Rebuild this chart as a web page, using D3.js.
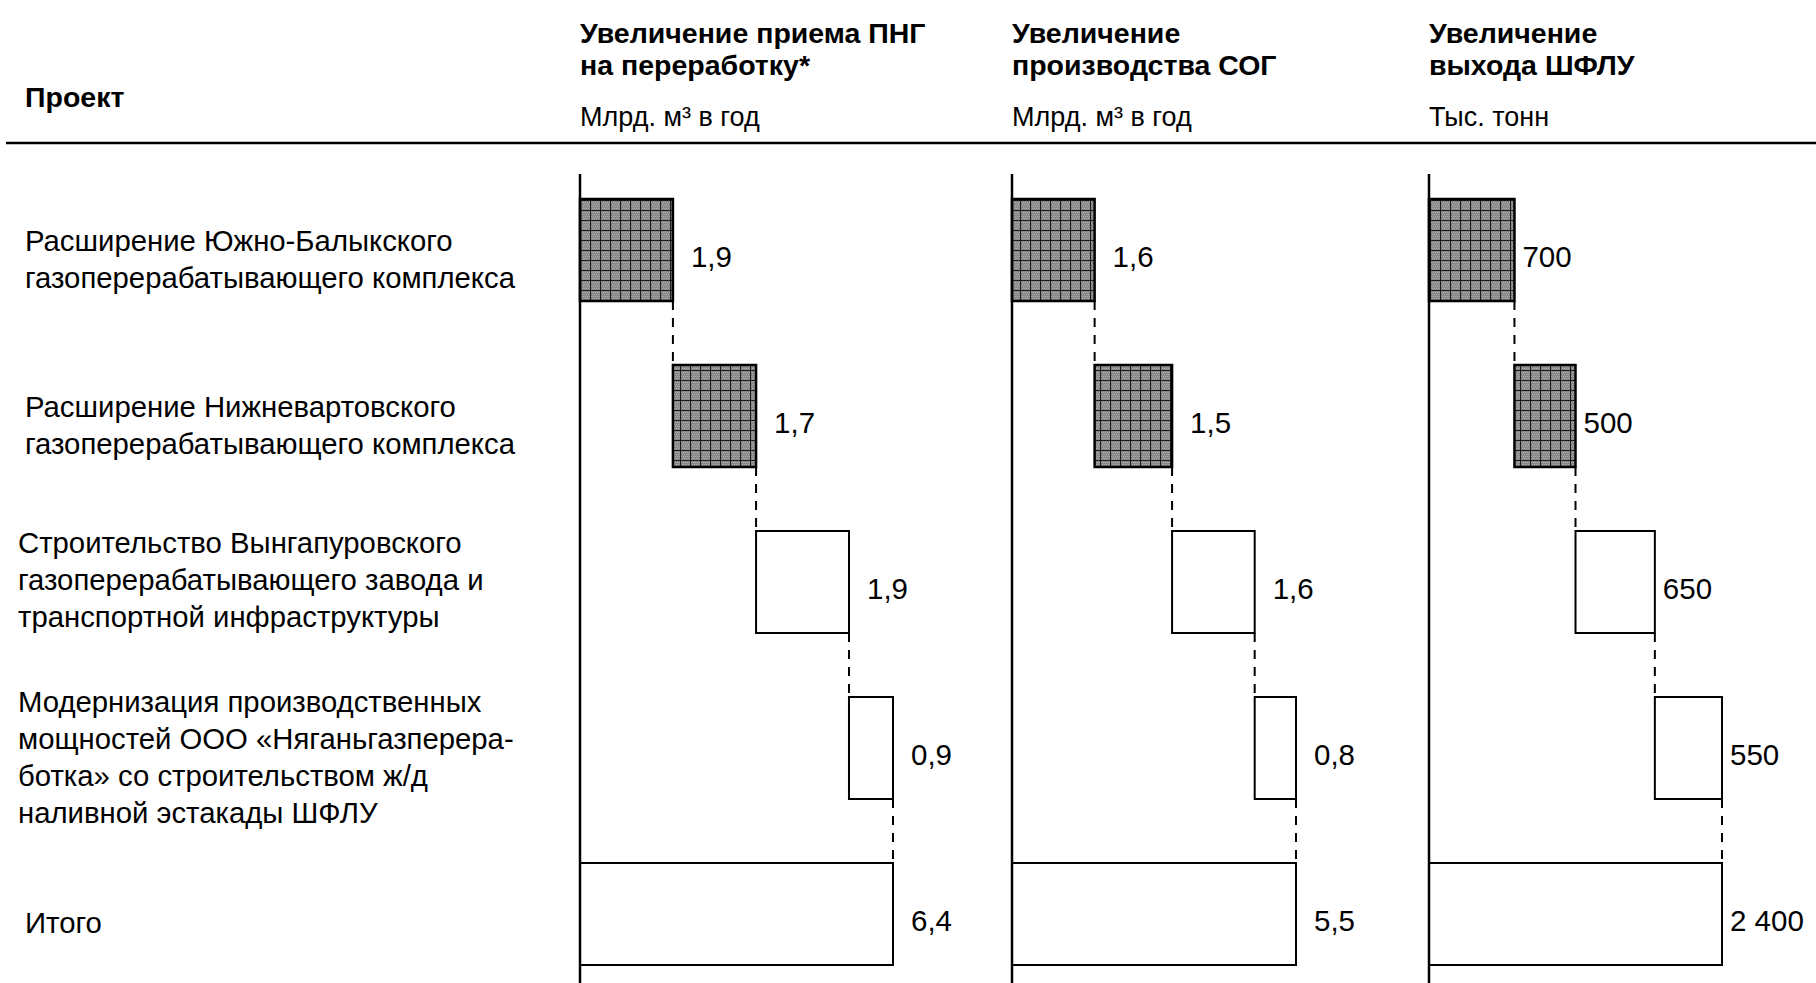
<!DOCTYPE html>
<html>
<head>
<meta charset="utf-8">
<script src="https://cdn.jsdelivr.net/npm/d3@7"></script>
<style>
  body { margin: 0; background: #fff; }
  text { font-family: "Liberation Sans", Arial, sans-serif; fill: #000; }
</style>
</head>
<body>
<svg id="chart" width="1816" height="983"></svg>
<script>
// row labels (projects), last one is the total
const projects = [
  ["Расширение Южно-Балыкского", "газоперерабатывающего комплекса"],
  ["Расширение Нижневартовского", "газоперерабатывающего комплекса"],
  ["Строительство Вынгапуровского", "газоперерабатывающего завода и", "транспортной инфраструктуры"],
  ["Модернизация производственных", "мощностей ООО «Няганьгазперера-", "ботка» со строительством ж/д", "наливной эстакады ШФЛУ"],
  ["Итого"]
];

// column headers and units
const headers = [
  ["Увеличение приема ПНГ", "на переработку*"],
  ["Увеличение", "производства СОГ"],
  ["Увеличение", "выхода ШФЛУ"]
];
const units = ["Млрд. м³ в год", "Млрд. м³ в год", "Тыс. тонн"];

// increments per project, in each column
const pngValues = [1.9, 1.7, 1.9, 0.9];
const sogValues = [1.6, 1.5, 1.6, 0.8];
const shfluValues = [700, 500, 650, 550];
const totals = [6.4, 5.5, 2400];

// first two projects are existing plants (hatched), the rest are new (white)
const hatched = [true, true, false, false];

const locale = d3.formatLocale({decimal: ",", thousands: "\u00a0", grouping: [3], currency: ["", ""]});
const formats = [locale.format(".1f"), locale.format(".1f"), locale.format(",.0f")];

const series = [pngValues, sogValues, shfluValues];

// layout
const headSize = 28.5;
const unitSize = 27;
const labelSize = 29.3;
const valueSize = 29.5;
const panelX = [580, 1012, 1429];
const panelW = [313, 284, 293];
const labelGap = [18, 18, 8];

const svg = d3.select('#chart');

// hatch pattern for existing plants
const defs = svg.append('defs');
const pat = defs.append('pattern')
  .attr('id', 'grid')
  .attr('patternUnits', 'userSpaceOnUse')
  .attr('width', 10).attr('height', 10);
pat.append('rect').attr('width', 10).attr('height', 10).attr('fill', '#8a8a8a');
for (let i = 0; i < 10; i += 2) {
  for (let j = 0; j < 10; j += 2) {
    pat.append('rect').attr('x', i + ((j / 2) % 2)).attr('y', j).attr('width', 1).attr('height', 1).attr('fill', '#aaaaaa');
  }
}
pat.append('path').attr('d', 'M0,0.5H10M0.5,0V10').attr('stroke', '#1a1a1a').attr('stroke-width', 1.2);

// row scale
const rows = d3.range(projects.length);
const yScale = d3.scaleBand().domain(rows).range([199, 965]).paddingInner(0.3855).paddingOuter(0);

// header
svg.append('text')
  .attr('x', 25).attr('y', 107)
  .attr('font-size', headSize).attr('font-weight', 'bold')
  .text('Проект');

svg.append('line')
  .attr('x1', 6).attr('x2', 1816)
  .attr('y1', 143).attr('y2', 143)
  .attr('stroke', '#000').attr('stroke-width', 2.5);

headers.forEach((h, k) => {
  const t = svg.append('text')
    .attr('font-size', headSize).attr('font-weight', 'bold');
  h.forEach((line, li) => {
    t.append('tspan').attr('x', panelX[k]).attr('y', 43 + li * 32).text(line);
  });
  svg.append('text')
    .attr('x', panelX[k]).attr('y', 126)
    .attr('font-size', unitSize)
    .text(units[k]);
});

// row labels
const lineH = 37;
projects.forEach((lines, i) => {
  // third label sits a little higher than its bar in the original
  const nudge = i === 2 ? -11 : 0;
  const cy = yScale(i) + yScale.bandwidth() / 2 + 9 + nudge;
  const lx = (i === 2 || i === 3) ? 18 : 25;
  const t = svg.append('text').attr('font-size', labelSize);
  lines.forEach((line, li) => {
    t.append('tspan')
      .attr('x', lx)
      .attr('y', cy + (li - (lines.length - 1) / 2) * lineH)
      .attr('dy', '0.35em')
      .text(line);
  });
});

// waterfall panels
series.forEach((vals, k) => {
  const x = d3.scaleLinear().domain([0, totals[k]]).range([panelX[k], panelX[k] + panelW[k]]);
  const g = svg.append('g');

  // cumulative steps
  let acc = 0;
  const steps = vals.map((v, i) => {
    const s = {i: i, start: acc, end: acc + v, value: v, hatched: hatched[i]};
    acc += v;
    return s;
  });
  steps.push({i: vals.length, start: 0, end: totals[k], value: totals[k], hatched: false});

  // dashed connectors
  for (let i = 0; i < steps.length - 1; i++) {
    const xe = x(steps[i].end);
    g.append('line')
      .attr('x1', xe).attr('x2', xe)
      .attr('y1', yScale(i) + yScale.bandwidth())
      .attr('y2', yScale(i + 1))
      .attr('stroke', '#000').attr('stroke-width', 2)
      .attr('stroke-dasharray', '9,8');
  }

  g.selectAll('rect.bar')
    .data(steps)
    .enter().append('rect')
    .attr('class', 'bar')
    .attr('x', d => x(d.start))
    .attr('y', d => yScale(d.i))
    .attr('width', d => x(d.end) - x(d.start))
    .attr('height', yScale.bandwidth())
    .attr('fill', d => d.hatched ? 'url(#grid)' : '#fff')
    .attr('stroke', '#000')
    .attr('stroke-width', d => d.hatched ? 2.5 : 2);

  g.selectAll('text.val')
    .data(steps)
    .enter().append('text')
    .attr('class', 'val')
    .attr('x', d => x(d.end) + labelGap[k])
    .attr('y', d => yScale(d.i) + yScale.bandwidth() / 2 + 7)
    .attr('dy', '0.35em')
    .attr('font-size', valueSize)
    .text(d => formats[k](d.value));

  // vertical axis line
  g.append('line')
    .attr('x1', panelX[k]).attr('x2', panelX[k])
    .attr('y1', 174).attr('y2', 983)
    .attr('stroke', '#000').attr('stroke-width', 2.5);
});
</script>
</body>
</html>
